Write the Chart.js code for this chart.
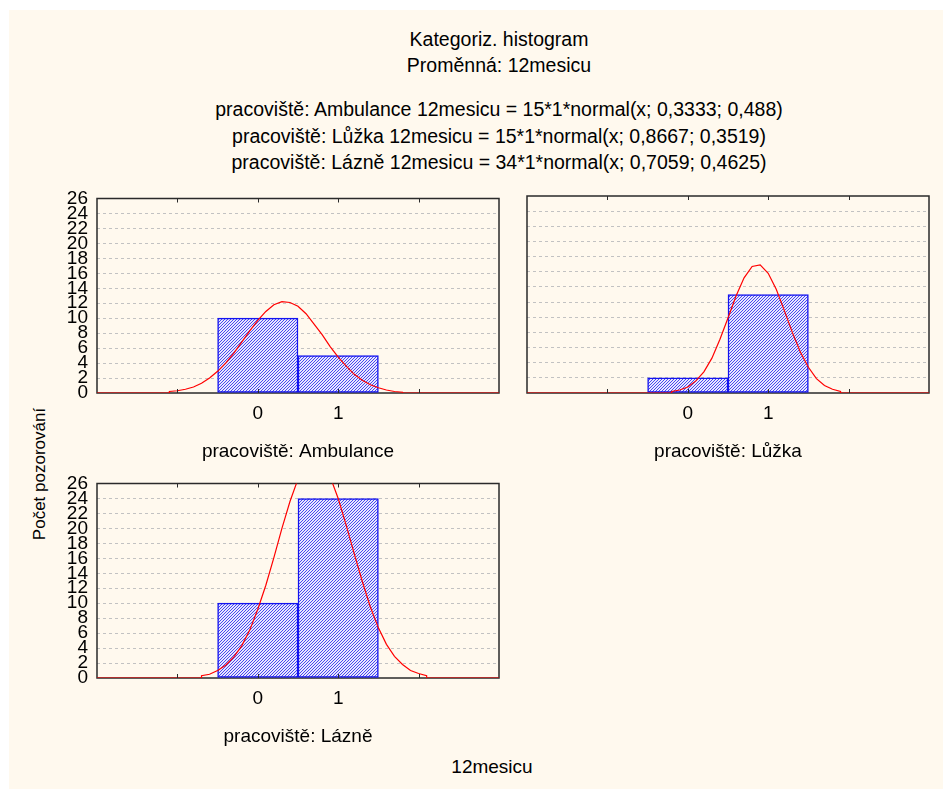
<!DOCTYPE html>
<html>
<head>
<meta charset="utf-8">
<title>Kategoriz. histogram</title>
<script src="https://cdn.jsdelivr.net/npm/chart.js@4.4.0/dist/chart.umd.min.js"></script>
<style>
  body { margin: 0; background: #fff; font-family: "Liberation Sans", Arial, sans-serif; color: #000; }
  #page { position: absolute; left: 9px; top: 10px; width: 934px; height: 779px; background: #fff9ee; }
  .txt { position: absolute; white-space: nowrap; line-height: 1; transform: translate(-50%, -50%); }
  .head { font-size: 19.5px; left: 499px; }
  #ylab { left: 39px; top: 474px; font-size: 17px; transform: translate(-50%, -50%) rotate(-90deg); }
  #xlab { left: 492px; top: 766px; font-size: 19px; }
  canvas { position: absolute; }
</style>
</head>
<body>
<div id="page"></div>

<div class="txt head" style="top:40px">Kategoriz. histogram</div>
<div class="txt head" style="top:66px">Proměnná: 12mesicu</div>
<div class="txt head" style="top:110px">pracoviště: Ambulance 12mesicu = 15*1*normal(x; 0,3333; 0,488)</div>
<div class="txt head" style="top:137px">pracoviště: Lůžka 12mesicu = 15*1*normal(x; 0,8667; 0,3519)</div>
<div class="txt head" style="top:163px">pracoviště: Lázně 12mesicu = 34*1*normal(x; 0,7059; 0,4625)</div>
<div class="txt" id="ylab">Počet pozorování</div>
<div class="txt" id="xlab">12mesicu</div>

<canvas id="ambulance" width="470" height="283" style="left:40px;top:180px"></canvas>
<canvas id="luzka" width="430" height="283" style="left:510px;top:180px"></canvas>
<canvas id="lazne" width="470" height="283" style="left:40px;top:465px"></canvas>

<script>
// histogram classes (12mesicu) and tick labels
const categories = [0, 1];
const tickLabels = ['0', '1'];
const xMin = -2, xMax = 3;
const yMax = 26, yStep = 2;

// counts per workplace
const ambulanceCounts = [10, 5];
const luzkaCounts = [2, 13];
const lazneCounts = [10, 24];

// fitted normal curves, one value every 0.1 starting at *Start
const ambulanceStart = -1.1;
const ambulanceCurve = [0.2, 0.3, 0.5, 0.8, 1.3, 2.0, 2.9, 4.0, 5.3, 6.8, 8.3, 9.7, 10.9, 11.8, 12.2,
  12.1, 11.6, 10.6, 9.2, 7.8, 6.2, 4.8, 3.6, 2.5, 1.7, 1.1, 0.7, 0.4, 0.2, 0.1];
const luzkaStart = -0.2;
const luzkaCurve = [0.2, 0.4, 0.8, 1.6, 2.8, 4.6, 7.1, 9.9, 12.8, 15.2, 16.7, 16.9, 15.8, 13.7, 10.9,
  8.0, 5.4, 3.4, 1.9, 1.0, 0.5, 0.2];
const lazneStart = -0.7;
const lazneCurve = [0.3, 0.5, 1.0, 1.7, 2.8, 4.3, 6.4, 9.2, 12.4, 16.1, 20.0, 23.6, 26.6, 28.6, 29.3,
  28.7, 26.9, 24.0, 20.4, 16.6, 12.9, 9.5, 6.7, 4.5, 2.9, 1.8, 1.0, 0.6, 0.3];

// diagonal hatch for the bars
function hatch() {
  const tile = document.createElement('canvas');
  tile.width = 3; tile.height = 3;
  const t = tile.getContext('2d');
  t.fillStyle = '#e6e6ff';
  t.fillRect(0, 0, 3, 3);
  t.fillStyle = '#4848ee';
  t.fillRect(0, 2, 1, 1);
  t.fillRect(1, 1, 1, 1);
  t.fillRect(2, 0, 1, 1);
  return t.createPattern(tile, 'repeat');
}

function curvePoints(start, values) {
  const pts = [{x: xMin, y: 0}, {x: start, y: 0}];
  values.forEach((v, i) => pts.push({x: +(start + i * 0.1).toFixed(2), y: v}));
  const end = +(start + (values.length - 1) * 0.1).toFixed(2);
  pts.push({x: end, y: 0}, {x: xMax, y: 0});
  return pts;
}

// plot frame + small inner ticks along x
const frame = {
  id: 'frame',
  beforeDatasetsDraw(chart) {
    const {ctx, chartArea: a} = chart;
    ctx.save();
    ctx.strokeStyle = '#2a2a2a';
    ctx.lineWidth = 1.5;
    ctx.strokeRect(a.left, a.top, a.width, a.height);
    ctx.restore();
  },
  afterDatasetsDraw(chart) {
    const {ctx, chartArea: a, scales: {x}} = chart;
    ctx.save();
    ctx.strokeStyle = '#2a2a2a';
    ctx.lineWidth = 1;
    x.ticks.forEach(t => {
      if (t.value <= xMin || t.value >= xMax) return;
      const px = Math.round(x.getPixelForValue(t.value)) + 0.5;
      ctx.beginPath();
      ctx.moveTo(px, a.top); ctx.lineTo(px, a.top + 4);
      ctx.moveTo(px, a.bottom); ctx.lineTo(px, a.bottom - 4);
      ctx.stroke();
    });
    ctx.restore();
  }
};

function makePanel(id, counts, start, curve, label, showY) {
  const ctx = document.getElementById(id).getContext('2d');
  return new Chart(ctx, {
    type: 'bar',
    data: {
      datasets: [{
        type: 'line',
        data: curvePoints(start, curve),
        borderColor: '#ff0000',
        borderWidth: 1.2,
        pointRadius: 0,
        tension: 0,
        order: 0
      }, {
        data: categories.map((c, i) => ({x: c, y: counts[i]})),
        backgroundColor: hatch(),
        borderColor: '#1414f0',
        borderWidth: 1.5,
        borderSkipped: false,
        barPercentage: 1,
        categoryPercentage: 1,
        order: 1
      }]
    },
    options: {
      responsive: false,
      animation: false,
      devicePixelRatio: 1,
      layout: { padding: { left: 0, top: 16, right: 11, bottom: 0 } },
      plugins: { legend: { display: false }, tooltip: { enabled: false } },
      scales: {
        x: {
          type: 'linear',
          min: xMin,
          max: xMax,
          offset: false,
          grid: { display: false, drawTicks: false },
          border: { display: false },
          ticks: {
            stepSize: 1,
            autoSkip: false,
            maxRotation: 0,
            padding: 9,
            color: '#000',
            font: { family: 'Liberation Sans', size: 19 },
            callback: v => {
              const i = categories.indexOf(v);
              return i >= 0 ? tickLabels[i] : '';
            }
          },
          title: {
            display: true,
            text: label,
            color: '#000',
            font: { family: 'Liberation Sans', size: 19 },
            padding: { top: 0, bottom: 0 }
          },
          afterFit: s => { s.height = 70; }
        },
        y: {
          min: 0,
          max: yMax,
          grid: {
            drawTicks: false,
            color: c => (c.tick.value === 0 || c.tick.value === yMax) ? 'rgba(0,0,0,0)' : '#c2c2c2'
          },
          border: { display: false, dash: [3, 3] },
          ticks: {
            display: showY,
            stepSize: yStep,
            autoSkip: false,
            padding: 9,
            color: '#000',
            font: { family: 'Liberation Sans', size: 19, lineHeight: 1 }
          },
          afterFit: s => { s.width = showY ? 57 : 17; }
        }
      }
    },
    plugins: [frame]
  });
}

makePanel('ambulance', ambulanceCounts, ambulanceStart, ambulanceCurve, 'pracoviště: Ambulance', true);
makePanel('luzka', luzkaCounts, luzkaStart, luzkaCurve, 'pracoviště: Lůžka', false);
makePanel('lazne', lazneCounts, lazneStart, lazneCurve, 'pracoviště: Lázně', true);
</script>
</body>
</html>
